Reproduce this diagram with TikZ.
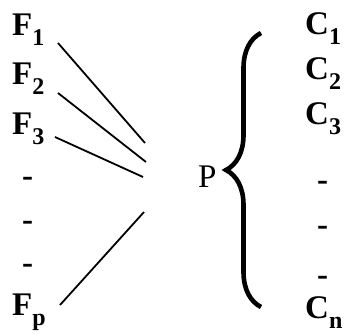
\documentclass[tikz,border=0pt]{standalone}
\usepackage{fontspec}
\setmainfont{Liberation Serif}
\usetikzlibrary{decorations.pathreplacing}

\newcommand{\idx}[1]{\raisebox{-10pt}{\fontsize{24}{24}\selectfont #1}}

\begin{document}
\begin{tikzpicture}[
    x=1pt, y=-1pt,
    lbl/.style={anchor=base west, inner sep=0pt, font=\fontsize{33}{36}\selectfont\bfseries},
    link/.style={line width=1.8pt},
    curly/.style={line width=4.6pt, decorate, decoration={brace, amplitude=35pt}}
]
\useasboundingbox (0,0) rectangle (347,333);

% Left column
\node[lbl] (f1) at (12,35) {F\idx{1}};
\node[lbl] (f2) at (12,84) {F\idx{2}};
\node[lbl] (f3) at (12,134) {F\idx{3}};
\node[lbl] (fd1) at (22,186) {-};
\node[lbl] (fd2) at (22,230) {-};
\node[lbl] (fd3) at (22,273) {-};
\node[lbl] (fp) at (12,315) {F\idx{p}};

% Middle
\node[lbl, font=\fontsize{33}{36}\selectfont] (p) at (198,187) {P};

% Right column
\node[lbl] (c1) at (305,34) {C\idx{1}};
\node[lbl] (c2) at (305,79) {C\idx{2}};
\node[lbl] (c3) at (305,124) {C\idx{3}};
\node[lbl] (cd1) at (317,190) {-};
\node[lbl] (cd2) at (317,235) {-};
\node[lbl] (cd3) at (317,285) {-};
\node[lbl] (cn) at (305,318) {C\idx{n}};

% Line ends
\coordinate (a1) at (58,43);
\coordinate (a2) at (58,93);
\coordinate (a3) at (55,137);
\coordinate (a4) at (60,305);
\coordinate (b1) at (145,143);
\coordinate (b2) at (146,162);
\coordinate (b3) at (143,177);
\coordinate (b4) at (144,212);

% Lines into P
\draw[link] (a1) -- (b1);
\draw[link] (a2) -- (b2);
\draw[link] (a3) -- (b3);
\draw[link] (a4) -- (b4);

% Brace
\coordinate (bb) at (261,307);
\coordinate (bt) at (261,33);
\draw[curly] (bb) -- (bt);

\end{tikzpicture}
\end{document}
